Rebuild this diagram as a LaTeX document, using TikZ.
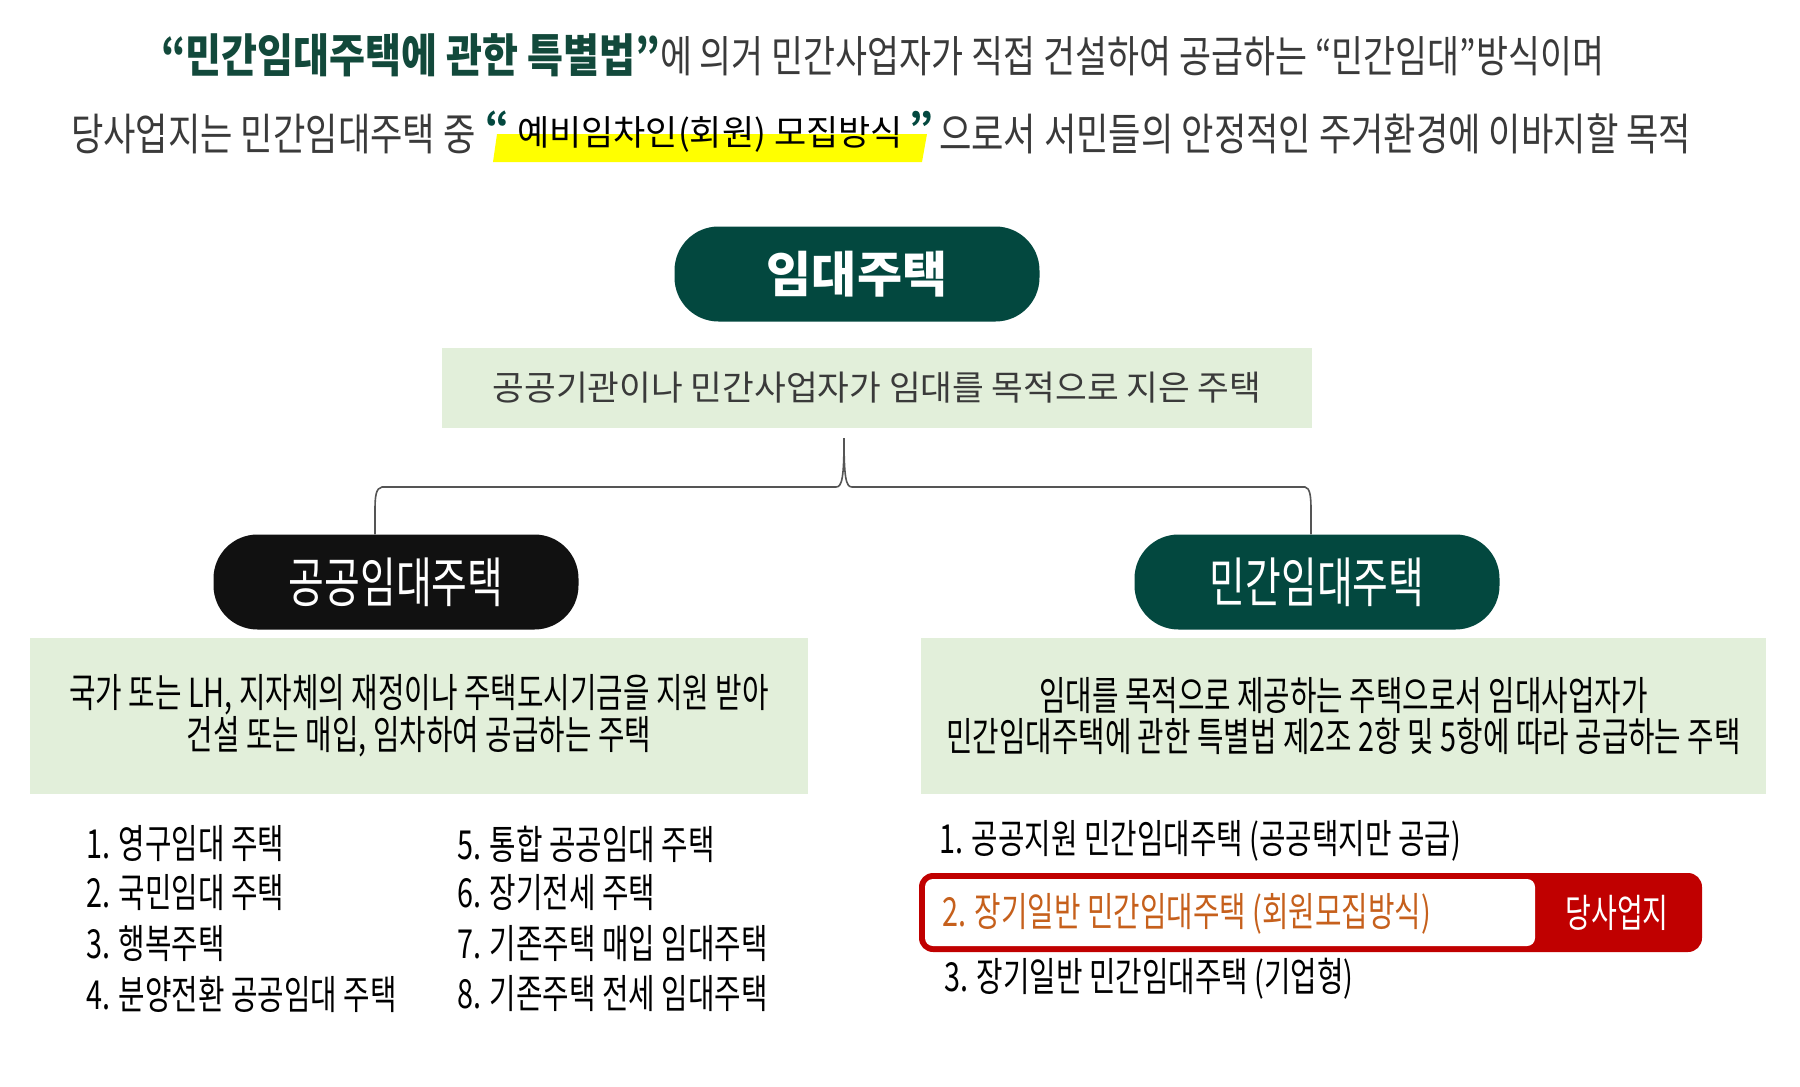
\documentclass[tikz,border=0pt]{standalone}
\usepackage{fontspec}
\newfontfamily\kr{Noto Sans CJK KR}
\newfontfamily\kc[FakeStretch=0.8]{Noto Sans CJK KR}
\newfontfamily\kt[FakeStretch=0.85]{Noto Sans CJK KR}
\newfontfamily\kb[FakeStretch=0.72]{Noto Sans CJK KR}
\definecolor{teal}{HTML}{03483F}
\definecolor{titlegreen}{HTML}{12493B}
\definecolor{lightgreen}{HTML}{E2EFDA}
\definecolor{bodygray}{HTML}{3A3A3A}
\definecolor{linegray}{HTML}{555555}
\definecolor{redbox}{HTML}{C00000}
\definecolor{orangetxt}{HTML}{C6601C}
\definecolor{hl}{HTML}{FFFF00}
\definecolor{pillblack}{HTML}{111111}
\tikzset{
  pill/.style={rounded corners=44pt, minimum width=365pt, minimum height=95pt, inner sep=0pt, text=white},
  gbox/.style={fill=lightgreen, inner sep=0pt, align=center},
  li/.style={anchor=west, inner sep=0pt, font=\kb\fontsize{40}{44}\selectfont, text=black},
  conn/.style={draw=linegray, line width=1.6pt},
  plain/.style={inner sep=0pt},
}
\begin{document}
\begin{tikzpicture}[x=1pt,y=-1pt]
\useasboundingbox[fill=white] (0,0) rectangle (1800,1087);

% header line 1
\node[plain, anchor=west, text=bodygray] (l1) at (161,55)
  {{\kt\bfseries\fontsize{46}{52}\selectfont\color{titlegreen}“민간임대주택에 관한 특별법”}{\kc\fontsize{43.5}{50}\selectfont 에 의거 민간사업자가 직접 건설하여 공급하는 “민간임대”방식이며}};

% header line 2
\fill[hl] (497,134) -- (927,134) -- (922,162) -- (493,162) -- cycle;
\node[plain, anchor=west, text=bodygray, font=\kc\fontsize{44}{50}\selectfont] (l2a) at (71,134) {당사업지는 민간임대주택 중};
\node[plain, text=teal, font=\kr\bfseries\fontsize{38}{40}\selectfont] (q1) at (497,126) {“};
\node[plain, text=black, font=\kr\fontsize{35}{40}\selectfont] (l2b) at (710,134) {예비임차인(회원) 모집방식};
\node[plain, text=teal, font=\kr\bfseries\fontsize{38}{40}\selectfont] (q2) at (921,126) {”};
\node[plain, anchor=west, text=bodygray, font=\kc\fontsize{44}{50}\selectfont] (l2c) at (939,134) {으로서 서민들의 안정적인 주거환경에 이바지할 목적};

% top pill and box
\node[pill, fill=teal, font=\kr\bfseries\fontsize{49}{54}\selectfont] (p0) at (857,274) {임대주택};
\node[gbox, minimum width=870pt, minimum height=80pt, text=bodygray, font=\kr\fontsize{34.5}{40}\selectfont] (b0) at (877,388) {공공기관이나 민간사업자가 임대를 목적으로 지은 주택};

% second level pills
\node[pill, fill=pillblack, font=\kb\fontsize{54}{60}\selectfont] (p1) at (396,582) {공공임대주택};
\node[pill, fill=teal, font=\kb\fontsize{54}{60}\selectfont] (p2) at (1317,582) {민간임대주택};

% connectors
\coordinate (tip) at (844,438);
\coordinate (jl) at (836,487);
\coordinate (jr) at (852,487);
\draw[conn] (tip) .. controls (844,478) and (842,487) .. (jl) -- (382,487) .. controls (376,488) and (375,496) .. (375,510) -- ([xshift=-21pt]p1.north);
\draw[conn] (tip) .. controls (844,478) and (846,487) .. (jr) -- (1305,487) .. controls (1310,488) and (1311,496) .. (1311,510) -- ([xshift=-6pt]p2.north);

% description boxes
\node[gbox, minimum width=778pt, minimum height=156pt, text=black, font=\kb\fontsize{40}{40}\selectfont] (b1) at (419,716)
  {국가 또는 LH, 지자체의 재정이나 주택도시기금을 지원 받아\\건설 또는 매입, 임차하여 공급하는 주택};
\node[gbox, minimum width=845pt, minimum height=156pt, text=black, font=\kb\fontsize{40}{41}\selectfont] (b2) at (1343.5,716)
  {임대를 목적으로 제공하는 주택으로서 임대사업자가\\민간임대주택에 관한 특별법 제2조 2항 및 5항에 따라 공급하는 주택};

% left lists
\node[li] (a1) at (86,844) {1. 영구임대 주택};
\node[li] (a2) at (86,893) {2. 국민임대 주택};
\node[li] (a3) at (86,944) {3. 행복주택};
\node[li] (a4) at (86,994) {4. 분양전환 공공임대 주택};
\node[li] (a5) at (457,844) {5. 통합 공공임대 주택};
\node[li] (a6) at (457,893) {6. 장기전세 주택};
\node[li] (a7) at (457,944) {7. 기존주택 매입 임대주택};
\node[li] (a8) at (457,994) {8. 기존주택 전세 임대주택};

% right list
\node[li] (c1) at (939,841) {1. 공공지원 민간임대주택 (공공택지만 공급)};
\node[fill=redbox, rounded corners=14pt, minimum width=783pt, minimum height=79pt, inner sep=0pt] (rbox) at (1310.5,912.5) {};
\node[fill=white, rounded corners=8pt, minimum width=610pt, minimum height=67pt, inner sep=0pt] (wbox) at (1230,912.5) {};
\node[li, text=orangetxt] (c2) at (942,914) {2. 장기일반 민간임대주택 (회원모집방식)};
\node[plain, text=white, font=\kb\fontsize{39}{42}\selectfont] (tag) at (1617,913) {당사업지};
\node[li] (c3) at (944,979) {3. 장기일반 민간임대주택 (기업형)};
\end{tikzpicture}
\end{document}
